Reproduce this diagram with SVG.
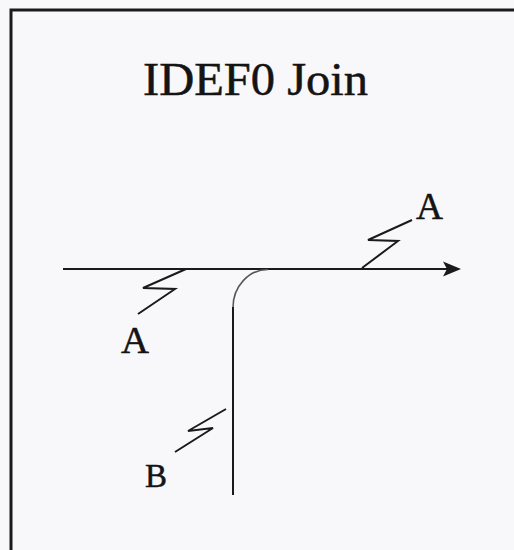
<svg xmlns="http://www.w3.org/2000/svg" width="514" height="550" viewBox="0 0 514 550">
<style>
.ln{fill:none;stroke:#1a1a1a;stroke-width:2}
.sq{fill:none;stroke:#1a1a1a;stroke-width:2;stroke-linejoin:miter}
.lbl{font-family:"Liberation Serif",serif;fill:#141414;stroke:#141414;stroke-width:0.5}
</style>
<rect x="0" y="0" width="514" height="550" fill="#f8f8fa"/>
<path d="M11,550 V10 H514" fill="none" stroke="#1a1a1a" stroke-width="3"/>
<g id="title"><text class="lbl" x="143" y="95" font-size="46" textLength="225" lengthAdjust="spacingAndGlyphs">IDEF0 Join</text></g>
<g id="connectors">
<path class="ln" d="M63,269 H450"/>
<path d="M461,269 L443,261.5 L447,269 L443,276.5 Z" fill="#1a1a1a"/>
<path d="M268,269.5 A35,38 0 0 0 233,307.5" fill="none" stroke="#555" stroke-width="1.5"/>
<path class="ln" d="M233,307 V495"/>
</g>
<g id="label-A-left">
<path class="sq" d="M186,269 L143,288 L175,289 L138,314"/>
<text class="lbl" x="121" y="353" font-size="37" textLength="28" lengthAdjust="spacingAndGlyphs">A</text>
</g>
<g id="label-A-right">
<path class="sq" d="M362,268 L398,241 L368,240 L412,220"/>
<text class="lbl" x="416" y="219" font-size="37" textLength="27" lengthAdjust="spacingAndGlyphs">A</text>
</g>
<g id="label-B">
<path class="sq" d="M226,409 L188,431 L213,428 L175,452"/>
<text class="lbl" x="145" y="487" font-size="34" textLength="22" lengthAdjust="spacingAndGlyphs">B</text>
</g>
</svg>
